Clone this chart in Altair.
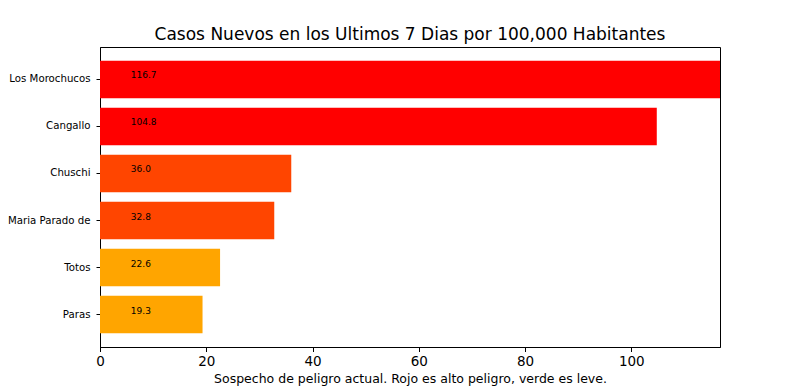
import altair as alt
import pandas as pd

districts = ["Los Morochucos", "Cangallo", "Chuschi", "Maria Parado de\u00a0", "Totos", "Paras"]
values = [116.7, 104.8, 36.0, 32.8, 22.6, 19.3]
colors = ["#FF0000", "#FF0000", "#FF4500", "#FF4500", "#FFA500", "#FFA500"]
label_x = 5.8

df = pd.DataFrame({"district": districts, "value": values, "color": colors})
df["label"] = df["value"].map(lambda v: f"{v:.1f}")
df["lx"] = label_x

FONT = "DejaVu Sans"

y_enc = alt.Y("district:N", sort=districts, title=None,
              scale=alt.Scale(paddingInner=0.2, paddingOuter=0.29),
              axis=alt.Axis(labelFontSize=10.2, labelColor="black", tickColor="black",
                            tickSize=4, labelPadding=6, domain=True, domainColor="black",
                            labelFont=FONT, labelLimit=200))

bars = alt.Chart(df).mark_bar().encode(
    x=alt.X("value:Q", title="Sospecho de peligro actual. Rojo es alto peligro, verde es leve.",
            scale=alt.Scale(domain=[0, max(values)], nice=False, zero=True),
            axis=alt.Axis(values=[0, 20, 40, 60, 80, 100], grid=False, labelFontSize=13.5,
                          titleFontSize=12.5, titleFontWeight="normal", labelColor="black",
                          titleColor="black", tickColor="black", tickSize=4.5, labelPadding=3,
                          titlePadding=4, domain=True, domainColor="black", labelFont=FONT,
                          titleFont=FONT, labelFlush=False)),
    y=y_enc,
    color=alt.Color("color:N", scale=None),
)

labels = alt.Chart(df).mark_text(align="left", baseline="middle", dy=-4, fontSize=9,
                                 font=FONT, color="black").encode(
    x=alt.X("lx:Q"),
    y=alt.Y("district:N", sort=districts),
    text="label:N",
)

chart = (bars + labels).properties(
    width=620, height=300,
    title=alt.TitleParams("Casos Nuevos en los Ultimos 7 Dias por 100,000 Habitantes",
                          fontSize=17, font=FONT, fontWeight="normal", color="black",
                          anchor="middle", offset=3),
    autosize=alt.AutoSizeParams(type="none"),
    padding={"left": 92, "top": 39, "right": 64, "bottom": 43},
).configure(background="white").configure_view(stroke="#000000", strokeWidth=1, strokeOpacity=1)

chart.save("out.html", embed_options={"renderer": "svg", "actions": False})
